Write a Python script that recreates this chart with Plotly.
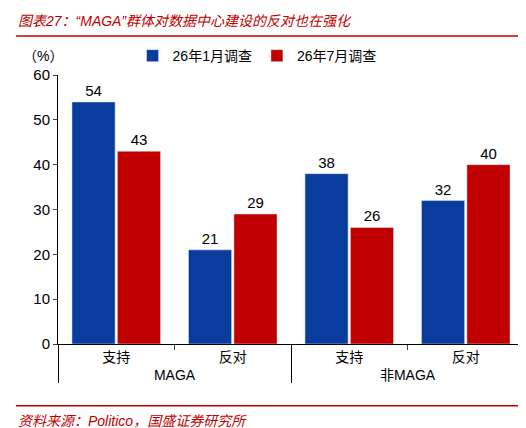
import plotly.graph_objects as go

groups = ["MAGA", "MAGA", "非MAGA", "非MAGA"]
stances = ["支持", "反对", "支持", "反对"]
jan = [54, 21, 38, 32]
jul = [43, 29, 26, 40]

font = "Liberation Sans, Noto Sans CJK SC"

fig = go.Figure()
fig.add_trace(go.Bar(x=[groups, stances], y=jan, name="26年1月调查", marker_color="#0A3C9E",
                     text=jan, textposition="outside", textfont=dict(size=15, color="black")))
fig.add_trace(go.Bar(x=[groups, stances], y=jul, name="26年7月调查", marker_color="#C00000",
                     text=jul, textposition="outside", textfont=dict(size=15, color="black")))

fig.update_layout(
    width=526, height=428, plot_bgcolor="white", paper_bgcolor="white",
    font=dict(family=font, size=15, color="black"),
    margin=dict(l=50, r=10, t=67, b=92, autoexpand=False),
    bargap=0.22, bargroupgap=0.05,
    legend=dict(orientation="h", x=0.16, y=1.13, xanchor="left", yanchor="top",
                font=dict(size=14), itemwidth=30, traceorder="normal"),
    yaxis=dict(range=[0, 60], dtick=10, showgrid=False, showline=True, linecolor="black",
               ticks="outside", ticklen=4, tickfont=dict(size=15), automargin=False),
    xaxis=dict(showline=True, linecolor="black", ticks="outside", showdividers=True,
               dividercolor="black", tickfont=dict(size=14), automargin=False),
    showlegend=True,
)
fig.add_annotation(text="<i>图表27：“MAGA”群体对数据中心建设的反对也在强化</i>", xref="paper", yref="paper",
                   x=-0.09, y=1.2, xanchor="left", yanchor="middle", showarrow=False,
                   font=dict(size=14, color="#C00000"))
fig.add_shape(type="line", xref="paper", yref="paper", x0=-0.09, x1=1.0, y0=1.145, y1=1.145,
              line=dict(color="#C00000", width=1.5))
fig.add_annotation(text="（%）", xref="paper", yref="paper", x=-0.08, y=1.07,
                   xanchor="left", yanchor="middle", showarrow=False, font=dict(size=14))
fig.add_shape(type="line", xref="paper", yref="paper", x0=-0.09, x1=1.0, y0=-0.23, y1=-0.23,
              line=dict(color="#C00000", width=1.5))
fig.add_annotation(text="<i>资料来源：Politico，国盛证券研究所</i>", xref="paper", yref="paper",
                   x=-0.09, y=-0.285, xanchor="left", yanchor="middle", showarrow=False,
                   font=dict(size=14, color="#C00000"))

fig.write_html("out.html")
